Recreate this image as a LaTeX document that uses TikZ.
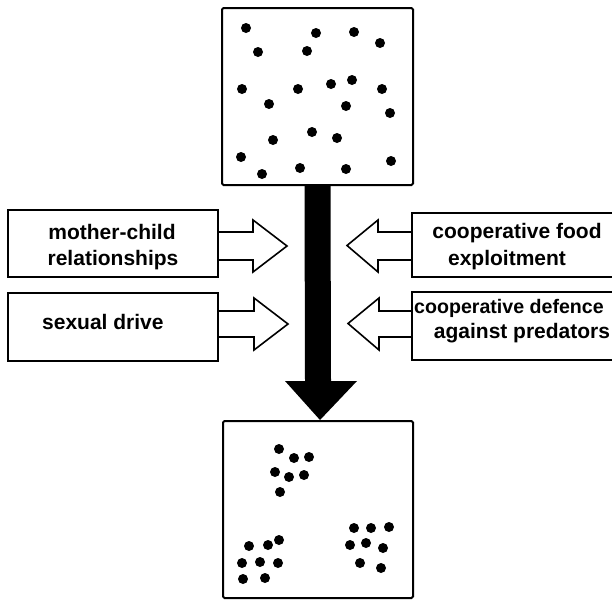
\documentclass[tikz,border=0pt]{standalone}
\usepackage{fontspec}
\setmainfont{Liberation Sans}
\begin{document}
\begin{tikzpicture}[x=1pt,y=-1pt,
  panel/.style={draw=black,line width=2pt,rounded corners=1.5pt,inner sep=0pt},
  sidebox/.style={draw=black,line width=1.8pt,inner sep=0pt,minimum height=67pt},
  lbl/.style={font=\fontsize{21}{27}\selectfont\bfseries,inner sep=0pt,anchor=base},
  hollow/.style={draw=black,line width=1.6pt,line join=miter},
  dot/.style={fill=black}]
\useasboundingbox (0,0) rectangle (612,600);
% panels
\node[panel,minimum width=191pt,minimum height=177pt] (top) at (317.5,96.5) {};
\node[panel,minimum width=190pt,minimum height=177pt] (bot) at (318,509.5) {};
% side boxes
\node[sidebox,minimum width=210pt] (b1) at (113,243.5) {};
\node[sidebox,minimum width=210pt,minimum height=68pt] (b2) at (113,327) {};
\node[sidebox,minimum width=210pt,minimum height=64pt] (b3) at (517,245) {};
\node[sidebox,minimum width=210pt,minimum height=68pt] (b4) at (517,326) {};
% labels
\node[lbl] (t1a) at (112,239) {mother-child};
\node[lbl] (t1b) at (113,265.5) {relationships};
\node[lbl,anchor=base west] (t2) at (42,329) {sexual drive};
\node[lbl] (t3a) at (517,238) {cooperative food};
\node[lbl] (t3b) at (507,265.5) {exploitment};
\node[lbl,anchor=base west,font=\fontsize{19.6}{27}\selectfont\bfseries] (t4a) at (414,313) {cooperative defence};
\node[lbl] (t4b) at (522,338) {against predators};
% coordinates for hollow arrows
\coordinate (ya1) at (0,232); \coordinate (yb1) at (0,260);
\coordinate (ya2) at (0,311); \coordinate (yb2) at (0,337);
% hollow arrows, left side
\draw[hollow] (b1.east |- ya1) -- (253,232) -- (253,220) -- (287,246) -- (253,272) -- (253,260) -- (b1.east |- yb1);
\draw[hollow] (b2.east |- ya2) -- (254,311) -- (254,298) -- (288,324) -- (254,350) -- (254,337) -- (b2.east |- yb2);
% hollow arrows, right side
\draw[hollow] (b3.west |- ya1) -- (378,232) -- (378,220) -- (347,245.5) -- (378,272) -- (378,260) -- (b3.west |- yb1);
\draw[hollow] (b4.west |- ya2) -- (379,311) -- (379,298) -- (348,323.5) -- (379,350) -- (379,337) -- (b4.west |- yb2);
% big black arrow
\fill ([xshift=-13pt]top.south) -- ([xshift=13pt]top.south)
  -- ([xshift=13pt,yshift=39pt]bot.north) -- ([xshift=39pt,yshift=39pt]bot.north)
  -- ([xshift=2pt]bot.north) -- ([xshift=-33pt,yshift=39pt]bot.north)
  -- ([xshift=-13pt,yshift=39pt]bot.north) -- cycle;
% dots, top panel
\foreach \px/\py in {246/28,316/33,354/32,380/43,258/52,307/51,242/89,298/89,331/84,352/80,382/89,269/104,346/106,390/113,312/132,273/140,337/138,241/157,391/161,262/174,300/168,346/169}
  \fill[dot] (\px,\py) circle (5pt);
% dots, bottom panel
\foreach \px/\py in {279/449,294/458,309/457,275/472,289/477,304/475,280/492,
  249/546,268/545,279/540,242/563,260/562,278/563,243/579,265/578,
  354/528,371/528,389/527,350/545,366/543,383/548,360/563,381/568}
  \fill[dot] (\px,\py) circle (5pt);
\end{tikzpicture}
\end{document}
